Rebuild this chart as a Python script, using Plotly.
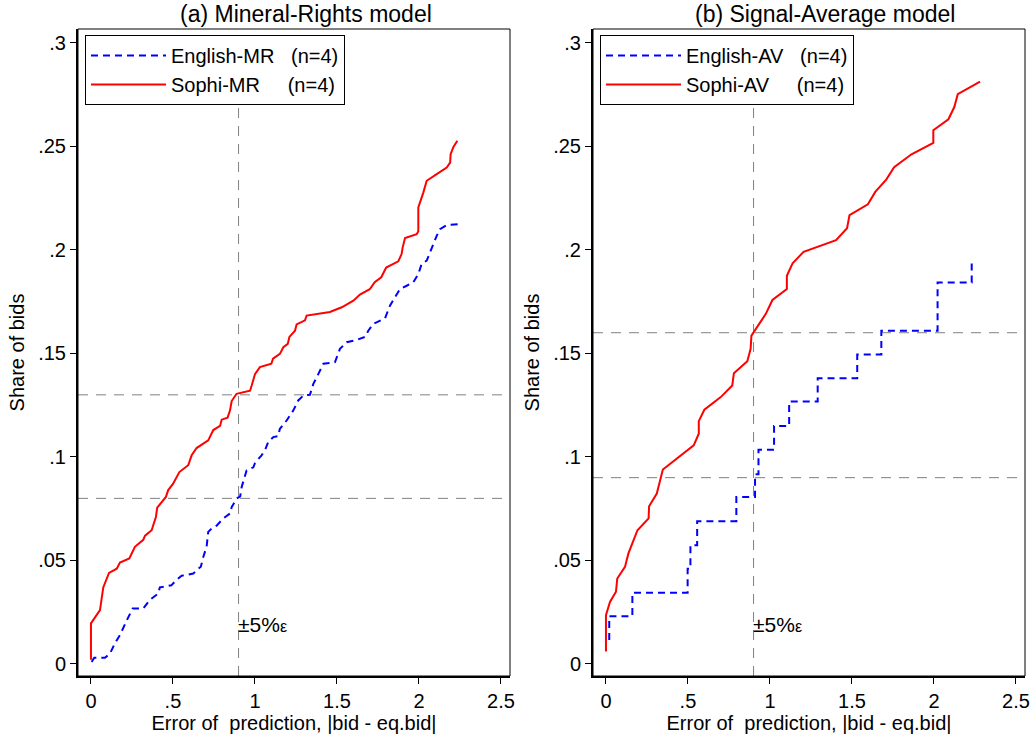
import plotly.graph_objects as go

# ---------------- data ----------------
# (a) Mineral-Rights model
sophi_mr_x = [0, 0, 0.055, 0.075, 0.11, 0.157, 0.177, 0.234, 0.268, 0.319, 0.33, 0.37, 0.396, 0.404,
              0.457, 0.471, 0.50, 0.539, 0.593, 0.614, 0.644, 0.715, 0.746, 0.787, 0.797, 0.833, 0.848,
              0.858, 0.888, 0.97, 0.98, 1.0, 1.03, 1.10, 1.11, 1.152, 1.173, 1.20, 1.21, 1.244, 1.254,
              1.305, 1.315, 1.457, 1.529, 1.60, 1.64, 1.70, 1.73, 1.77, 1.80, 1.874, 1.894, 1.90, 1.915,
              1.986, 1.996, 1.996, 2.027, 2.047, 2.108, 2.169, 2.19, 2.193, 2.21, 2.234]
sophi_mr_y = [0.002, 0.0196, 0.026, 0.037, 0.044, 0.046, 0.049, 0.051, 0.0566, 0.060, 0.062, 0.0646,
              0.071, 0.0755, 0.0807, 0.084, 0.087, 0.0927, 0.096, 0.1008, 0.1043, 0.108, 0.113, 0.115,
              0.118, 0.119, 0.1225, 0.127, 0.1305, 0.132, 0.1345, 0.140, 0.1434, 0.145, 0.1475, 0.1498,
              0.153, 0.1546, 0.158, 0.161, 0.164, 0.166, 0.1683, 0.170, 0.1723, 0.1755, 0.1784, 0.181,
              0.1844, 0.1868, 0.1915, 0.1945, 0.198, 0.201, 0.2057, 0.2076, 0.209, 0.2205, 0.2278,
              0.2334, 0.2366, 0.2398, 0.2422, 0.2462, 0.2497, 0.2527]

english_mr_x = [0.004, 0.02, 0.085, 0.116, 0.146, 0.177, 0.218, 0.254, 0.319, 0.36, 0.41, 0.42, 0.49,
                0.52, 0.553, 0.624, 0.654, 0.67, 0.685, 0.705, 0.715, 0.736, 0.766, 0.807, 0.848, 0.858,
                0.888, 0.91, 0.919, 0.939, 0.949, 0.99, 1.0, 1.04, 1.061, 1.081, 1.112, 1.14, 1.152,
                1.193, 1.234, 1.264, 1.295, 1.335, 1.356, 1.386, 1.417, 1.488, 1.518, 1.559, 1.62,
                1.671, 1.691, 1.722, 1.793, 1.823, 1.854, 1.884, 1.925, 1.965, 1.996, 2.016, 2.047,
                2.067, 2.087, 2.108, 2.128, 2.169, 2.24]
english_mr_y = [0.001, 0.003, 0.003, 0.005, 0.01, 0.014, 0.021, 0.0268, 0.0268, 0.031, 0.034, 0.037,
                0.038, 0.0405, 0.0426, 0.0437, 0.046, 0.047, 0.0517, 0.0566, 0.0638, 0.0654, 0.0668,
                0.0703, 0.0727, 0.0758, 0.0799, 0.081, 0.0855, 0.0903, 0.0935, 0.095, 0.097, 0.1008,
                0.1032, 0.1072, 0.1096, 0.110, 0.1136, 0.1176, 0.1225, 0.1273, 0.1297, 0.130, 0.1353,
                0.140, 0.145, 0.1458, 0.1522, 0.1554, 0.1565, 0.158, 0.161, 0.1643, 0.167, 0.1731,
                0.1771, 0.1811, 0.1827, 0.1843, 0.1883, 0.1932, 0.1948, 0.1988, 0.2028, 0.2068, 0.210,
                0.212, 0.2124]

# (b) Signal-Average model
sophi_av_x = [0, 0, 0.0245, 0.061, 0.069, 0.116, 0.137, 0.192, 0.26, 0.263, 0.31, 0.347, 0.535, 0.566,
              0.566, 0.60, 0.70, 0.77, 0.78, 0.862, 0.882, 0.887, 0.974, 1.015, 1.103, 1.103, 1.138,
              1.205, 1.403, 1.47, 1.485, 1.597, 1.642, 1.71, 1.757, 1.863, 1.996, 1.996, 2.088, 2.124,
              2.145, 2.281]
sophi_av_y = [0.006, 0.0236, 0.030, 0.0349, 0.0413, 0.0469, 0.0534, 0.0646, 0.0703, 0.0762, 0.0823,
              0.0939, 0.1056, 0.1112, 0.1173, 0.1228, 0.1289, 0.1345, 0.1404, 0.1462, 0.1522, 0.1586,
              0.169, 0.1758, 0.1811, 0.1875, 0.1935, 0.1991, 0.2047, 0.2105, 0.2168, 0.222, 0.228,
              0.2341, 0.240, 0.2462, 0.2517, 0.2578, 0.2631, 0.269, 0.2752, 0.2813]

english_av_x = [0.02, 0.02, 0.161, 0.498, 0.515, 0.556, 0.795, 0.909, 0.93, 1.025, 1.117, 1.291, 1.532,
                1.679, 2.022, 2.23]
english_av_y = [0.0116, 0.0231, 0.0344, 0.046, 0.0574, 0.069, 0.0807, 0.0916, 0.1035, 0.115, 0.1268,
                0.138, 0.1495, 0.161, 0.1843, 0.194]

# reference lines
vline_x = 0.9
hlines_mr = [0.13, 0.08]
hlines_av = [0.16, 0.09]

x_tickvals = [0, 0.5, 1, 1.5, 2, 2.5]
x_ticktext = ["0", ".5", "1", "1.5", "2", "2.5"]
y_tickvals = [0, 0.05, 0.1, 0.15, 0.2, 0.25, 0.3]
y_ticktext = ["0", ".05", ".1", ".15", ".2", ".25", ".3"]

titles = ["(a) Mineral-Rights model", "(b) Signal-Average model"]
x_title = "Error of  prediction, |bid - eq.bid|"
y_title = "Share of bids"
legend_names = ["English-MR\u00a0\u00a0\u00a0(n=4)", "Sophi-MR\u00a0\u00a0\u00a0\u00a0\u00a0(n=4)",
                "English-AV\u00a0\u00a0\u00a0(n=4)", "Sophi-AV\u00a0\u00a0\u00a0\u00a0\u00a0(n=4)"]

# ---------------- figure ----------------
FONT = "Liberation Sans, Arial, sans-serif"
BLUE = "#0000FF"
RED = "#FF0000"
GREY = "#808080"
FS = 20

W, H = 1033, 736
fig = go.Figure()

fig.add_trace(go.Scatter(x=english_mr_x, y=english_mr_y, mode="lines", name=legend_names[0],
                         line=dict(color=BLUE, width=2, dash="7px,5px"), xaxis="x", yaxis="y",
                         legend="legend", legendgroup="a1"))
fig.add_trace(go.Scatter(x=sophi_mr_x, y=sophi_mr_y, mode="lines", name=legend_names[1],
                         line=dict(color=RED, width=2), xaxis="x", yaxis="y",
                         legend="legend", legendgroup="a2"))
fig.add_trace(go.Scatter(x=english_av_x, y=english_av_y, mode="lines", name=legend_names[2],
                         line=dict(color=BLUE, width=2, dash="7px,5px", shape="hv"), xaxis="x2", yaxis="y2",
                         legend="legend2", legendgroup="b1"))
fig.add_trace(go.Scatter(x=sophi_av_x, y=sophi_av_y, mode="lines", name=legend_names[3],
                         line=dict(color=RED, width=2), xaxis="x2", yaxis="y2",
                         legend="legend2", legendgroup="b2"))

# plot areas in pixels
L1, R1 = 78, 510
L2, R2 = 593, 1025
TOP, BOT = 29, 676
xrange_ = [-0.079, 2.555]
yrange_ = [-0.0058, 0.3067]

def px2x(p):
    return p / W

def px2y(p):
    return 1 - p / H

common_x = dict(range=xrange_, tickvals=x_tickvals, ticktext=x_ticktext, showgrid=False, zeroline=False,
                showline=True, linecolor="black", linewidth=2, ticks="outside", ticklen=6, tickwidth=1,
                tickcolor="black", tickfont=dict(family=FONT, size=FS, color="black"), automargin=False,
                title=dict(text=x_title, font=dict(family=FONT, size=FS, color="black"), standoff=0))
common_y = dict(range=yrange_, tickvals=y_tickvals, ticktext=y_ticktext, showgrid=False, zeroline=False,
                showline=True, linecolor="black", linewidth=2, ticks="outside", ticklen=6, tickwidth=1,
                tickcolor="black", tickfont=dict(family=FONT, size=FS, color="black"), automargin=False,
                title=dict(text=y_title, font=dict(family=FONT, size=FS, color="black"), standoff=8))

fig.update_layout(
    width=W, height=H,
    margin=dict(l=0, r=0, t=0, b=0, autoexpand=False),
    paper_bgcolor="white", plot_bgcolor="white",
    font=dict(family=FONT, size=FS, color="black"),
    xaxis=dict(domain=[px2x(L1), px2x(R1)], anchor="y", **common_x),
    yaxis=dict(domain=[px2y(BOT), px2y(TOP)], anchor="x", **common_y),
    xaxis2=dict(domain=[px2x(L2), px2x(R2)], anchor="y2", **common_x),
    yaxis2=dict(domain=[px2y(BOT), px2y(TOP)], anchor="x2", **common_y),
    legend=dict(x=px2x(85), y=px2y(35), xanchor="left", yanchor="top", bordercolor="black", borderwidth=1,
                bgcolor="white", font=dict(family=FONT, size=FS, color="black"), itemwidth=75,
                traceorder="grouped", tracegroupgap=0),
    legend2=dict(x=px2x(600), y=px2y(35), xanchor="left", yanchor="top", bordercolor="black", borderwidth=1,
                 bgcolor="white", font=dict(family=FONT, size=FS, color="black"), itemwidth=75,
                 traceorder="grouped", tracegroupgap=0),
    showlegend=True,
)

# frames, reference lines
shapes = []
for xa, ya, hl in (("x", "y", hlines_mr), ("x2", "y2", hlines_av)):
    shapes.append(dict(type="rect", xref=f"{xa} domain", yref=f"{ya} domain", x0=0, x1=1, y0=0, y1=1,
                       line=dict(color="black", width=1), layer="above"))
    shapes.append(dict(type="line", xref=xa, yref=f"{ya} domain", x0=vline_x, x1=vline_x, y0=0, y1=1,
                       line=dict(color=GREY, width=1, dash="10px,8px"), layer="below"))
    for h in hl:
        shapes.append(dict(type="line", xref=f"{xa} domain", yref=ya, x0=0, x1=1, y0=h, y1=h,
                           line=dict(color=GREY, width=1, dash="10px,8px"), layer="below"))
fig.update_layout(shapes=shapes)

annotations = [
    dict(text=titles[0], xref="paper", yref="paper", x=px2x(306), y=px2y(14), xanchor="center",
         yanchor="middle", showarrow=False, font=dict(family=FONT, size=23, color="black")),
    dict(text=titles[1], xref="paper", yref="paper", x=px2x(825), y=px2y(14), xanchor="center",
         yanchor="middle", showarrow=False, font=dict(family=FONT, size=23, color="black")),
]
for xa, ya in (("x", "y"), ("x2", "y2")):
    annotations.append(dict(text="±5%<span style='font-size:16px'>ε</span>", xref=xa, yref=ya, x=vline_x,
                            y=0.019, xanchor="left", yanchor="middle", showarrow=False, xshift=-3,
                            font=dict(family=FONT, size=21, color="black")))
fig.update_layout(annotations=annotations)

fig.write_html("out.html", config={"displayModeBar": False},
               post_script="document.body.style.margin='0px';document.body.style.overflow='hidden';")
